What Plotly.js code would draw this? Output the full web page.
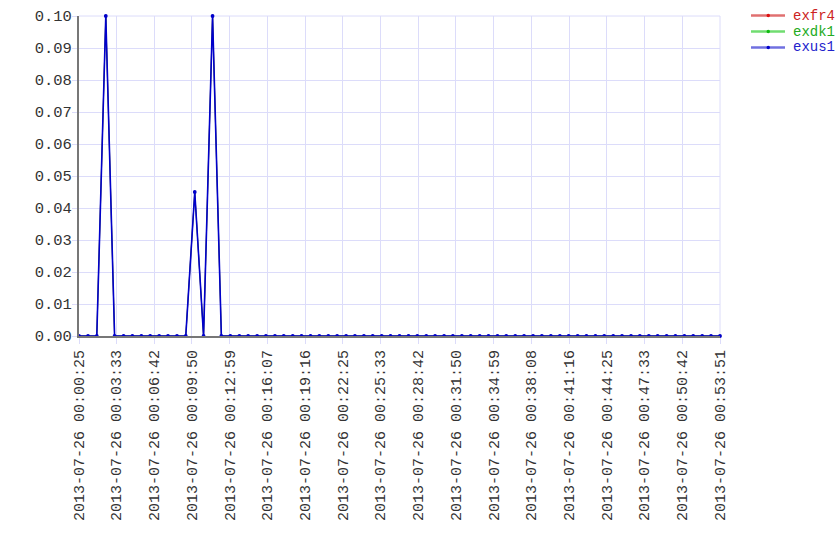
<!DOCTYPE html>
<html>
<head>
<meta charset="utf-8">
<script src="https://cdn.plot.ly/plotly-3.0.1.min.js"></script>
<style>html,body{margin:0;padding:0;background:#fff;}#chart{width:840px;height:560px;}</style>
</head>
<body>
<div id="chart"></div>
<script>
// sample times (2013-07-26)
var day = "2013-07-26 ";
var times = [
"00:00:25","00:01:10","00:01:54","00:02:39","00:03:23","00:04:08","00:04:52","00:05:37","00:06:21","00:07:06",
"00:07:50","00:08:35","00:09:19","00:10:04","00:10:48","00:11:33","00:12:17","00:13:02","00:13:47","00:14:31",
"00:15:16","00:16:00","00:16:45","00:17:29","00:18:14","00:18:58","00:19:43","00:20:27","00:21:12","00:21:56",
"00:22:41","00:23:25","00:24:10","00:24:54","00:25:39","00:26:23","00:27:08","00:27:53","00:28:37","00:29:22",
"00:30:06","00:30:51","00:31:35","00:32:20","00:33:04","00:33:49","00:34:33","00:35:18","00:36:02","00:36:47",
"00:37:31","00:38:16","00:39:00","00:39:45","00:40:30","00:41:14","00:41:59","00:42:43","00:43:28","00:44:12",
"00:44:57","00:45:41","00:46:26","00:47:10","00:47:55","00:48:39","00:49:24","00:50:08","00:50:53","00:51:37",
"00:52:22","00:53:06","00:53:51"
];
var exfr4 = [
0,0,0,0.1,0,0,0,0,0,0, 0,0,0,0.045,0,0.1,0,0,0,0,
0,0,0,0,0,0,0,0,0,0, 0,0,0,0,0,0,0,0,0,0,
0,0,0,0,0,0,0,0,0,0, 0,0,0,0,0,0,0,0,0,0,
0,0,0,0,0,0,0,0,0,0, 0,0,0
];
var exdk1 = [
0,0,0,0.1,0,0,0,0,0,0, 0,0,0,0.045,0,0.1,0,0,0,0,
0,0,0,0,0,0,0,0,0,0, 0,0,0,0,0,0,0,0,0,0,
0,0,0,0,0,0,0,0,0,0, 0,0,0,0,0,0,0,0,0,0,
0,0,0,0,0,0,0,0,0,0, 0,0,0
];
var exus1 = [
0,0,0,0.1,0,0,0,0,0,0, 0,0,0,0.045,0,0.1,0,0,0,0,
0,0,0,0,0,0,0,0,0,0, 0,0,0,0,0,0,0,0,0,0,
0,0,0,0,0,0,0,0,0,0, 0,0,0,0,0,0,0,0,0,0,
0,0,0,0,0,0,0,0,0,0, 0,0,0
];
var seriesNames = ["exfr4","exdk1","exus1"];
var xTickTimes = ["00:00:25","00:03:33","00:06:42","00:09:50","00:12:59","00:16:07","00:19:16","00:22:25","00:25:33",
"00:28:42","00:31:50","00:34:59","00:38:08","00:41:16","00:44:25","00:47:33","00:50:42","00:53:51"];
var yTickVals = [0,0.01,0.02,0.03,0.04,0.05,0.06,0.07,0.08,0.09,0.10];

var x = times.map(function(t){return day + t;});
var colors = ["#dd1111","#11bb11","#0000cc"];
var legendLineColors = ["#e07070","#70dd70","#7070e0"];
var legendTextColors = ["#cc2222","#22aa22","#2222cc"];
var vals = [exfr4, exdk1, exus1];
var data = seriesNames.map(function(n, i){
  return {
    x: x, y: vals[i], name: n, type: "scatter", mode: "lines+markers",
    line: {color: colors[i], width: i === 2 ? 1.6 : 0.8},
    marker: {color: colors[i], size: i === 2 ? 3.8 : 2.5},
    cliponaxis: false, showlegend: false
  };
});

// manual legend (pixel positions converted to paper coords)
var L = 79, T = 16, W = 641, H = 320;
function px(v){ return (v - L) / W; }
function py(v){ return 1 - (v - T) / H; }
var legendRows = [15.5, 31.5, 47.5];
var shapes = [
  {type: "line", xref: "paper", yref: "paper", x0: 1, x1: 1, y0: 0, y1: 1, line: {color: "#dcdcfa", width: 1}, layer: "below"},
  {type: "line", xref: "paper", yref: "paper", x0: 0, x1: 1, y0: 1, y1: 1, line: {color: "#dcdcfa", width: 1}, layer: "below"}
];
var annotations = [];
seriesNames.forEach(function(n, i){
  var yy = legendRows[i];
  shapes.push({type: "line", xref: "paper", yref: "paper", x0: px(751), x1: px(785), y0: py(yy), y1: py(yy),
    line: {color: legendLineColors[i], width: 2.5}});
  shapes.push({type: "circle", xref: "paper", yref: "paper", x0: px(766.5), x1: px(770), y0: py(yy - 1.75), y1: py(yy + 1.75),
    fillcolor: colors[i], line: {color: colors[i], width: 0}});
  annotations.push({xref: "paper", yref: "paper", x: px(792), y: py(yy), xanchor: "left", yanchor: "middle",
    text: n, showarrow: false, borderpad: 0,
    font: {family: "Liberation Mono, Courier New, monospace", size: 14, color: legendTextColors[i]}});
});

var font = "Liberation Mono, Courier New, monospace";
var layout = {
  width: 840, height: 560,
  margin: {l: 79, r: 120, t: 16, b: 224, autoexpand: false},
  paper_bgcolor: "#ffffff", plot_bgcolor: "#ffffff",
  font: {family: font, size: 15, color: "#333333"},
  showlegend: false,
  xaxis: {
    type: "date",
    range: [x[0], x[x.length-1]],
    tickvals: xTickTimes.map(function(t){return day + t;}),
    ticktext: xTickTimes.map(function(t){return day + t;}),
    tickangle: -90,
    showgrid: true, gridcolor: "#dcdcfa", gridwidth: 1,
    ticks: "outside", ticklen: 6, tickcolor: "#dcdcfa",
    showline: true, linecolor: "#777777", linewidth: 2,
    zeroline: false, automargin: false,
    tickfont: {family: font, size: 15, color: "#333333"},
    fixedrange: true
  },
  yaxis: {
    range: [0, 0.1],
    tickvals: yTickVals, tickformat: ".2f",
    showgrid: true, gridcolor: "#dcdcfa", gridwidth: 1,
    ticks: "outside", ticklen: 5, tickcolor: "#dcdcfa",
    ticklabelstandoff: -3,
    showline: true, linecolor: "#777777", linewidth: 2,
    zeroline: false, automargin: false,
    tickfont: {family: font, size: 15.5, color: "#333333"},
    fixedrange: true
  },
  shapes: shapes,
  annotations: annotations
};

Plotly.newPlot("chart", data, layout, {displayModeBar: false, staticPlot: true});
</script>
</body>
</html>
